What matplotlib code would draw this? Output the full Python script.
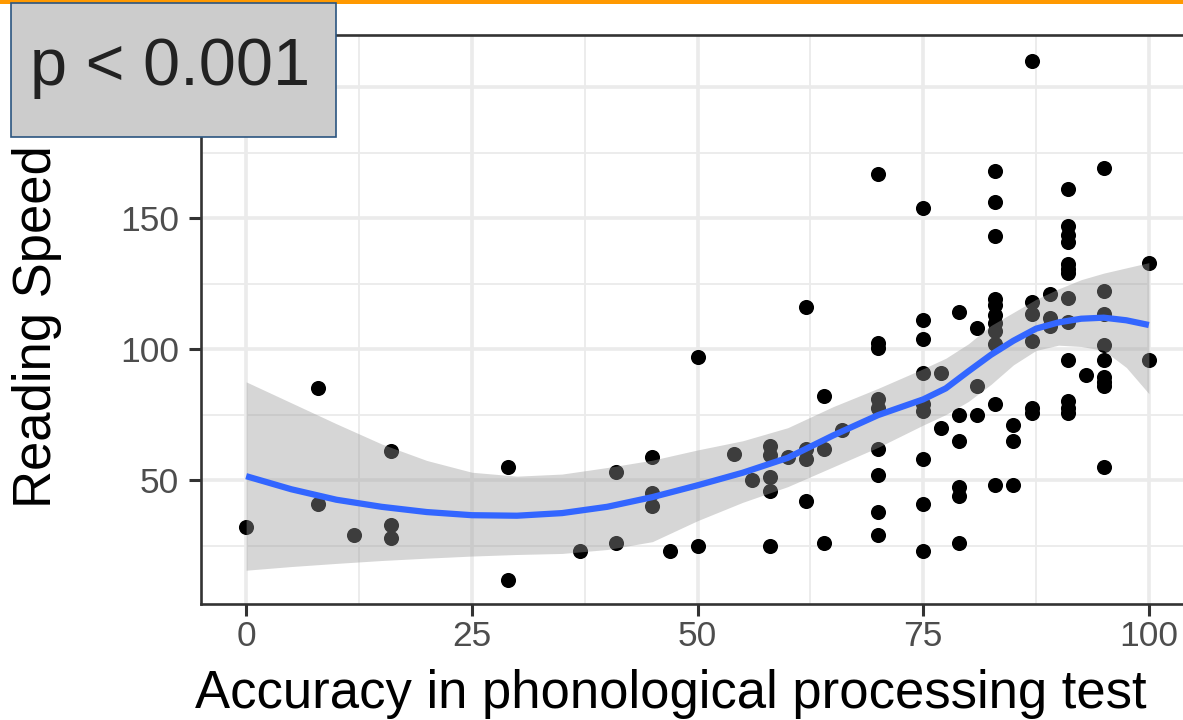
import matplotlib
matplotlib.use("Agg")
import matplotlib.pyplot as plt
from matplotlib.patches import Rectangle

plt.rcParams["font.family"] = ["Liberation Sans", "DejaVu Sans"]

# --------------------------------------------
# Data: accuracy (%) vs reading speed
# --------------------------------------------

accuracy = [
    0,
    8, 8,
    12,
    16, 16, 16,
    29, 29,
    37,
    41, 41,
    45, 45, 45,
    47,
    50, 50,
    54,
    56,
    58, 58, 58, 58, 58,
    60,
    62, 62, 62, 62,
    64, 64, 64,
    66,
    70, 70, 70, 70, 70, 70, 70, 70, 70,
    75, 75, 75, 75, 75, 75, 75, 75, 75,
    77, 77,
    79, 79, 79, 79, 79, 79,
    81, 81, 81,
    83, 83, 83, 83, 83, 83, 83, 83, 83, 83, 83,
    85, 85, 85,
    87, 87, 87, 87, 87, 87,
    89, 89, 89,
    91, 91, 91, 91, 91, 91, 91, 91, 91, 91, 91, 91, 91,
    93,
    95, 95, 95, 95, 95, 95, 95, 95, 95,
    100, 100,
]

speed = [
    32,
    85, 41,
    29,
    61, 33, 28,
    55, 12,
    23,
    53, 26,
    59, 45, 40,
    23,
    97, 25,
    60,
    50,
    63, 59.5, 51, 46, 25,
    59,
    116, 62, 58, 42,
    82, 62, 26,
    69,
    167, 102.5, 100.5, 81, 77.5, 62, 52, 38, 29,
    154, 111, 104, 91, 79, 76.5, 58, 41, 23,
    91, 70,
    114, 75, 65, 47.5, 44, 26,
    108, 86, 75,
    168, 156, 143, 119, 117, 113, 110, 107, 102, 79, 48,
    71, 65, 48,
    210, 118, 113.5, 103, 77.5, 75.5,
    121, 112, 109,
    161, 147, 143.5, 141, 132.5, 130.5, 129, 119.5, 110.5, 96, 80, 77.5, 75.5,
    90,
    169, 122, 113.5, 101.5, 96, 89.5, 87.5, 86, 55,
    133, 96,
]

# loess smooth with 95% band
smooth_x = [0, 5, 10, 15, 20, 25, 30, 35, 40, 45, 50, 55, 60, 65, 70,
            75, 77.5, 80, 82.5, 85, 87.5, 90, 92.5, 95, 97.5, 100]
smooth_fit = [51.5, 46.5, 42.5, 39.8, 37.8, 36.6, 36.4, 37.4, 39.8, 43.5, 48,
              52.8, 58.5, 67, 74.8, 80.8, 85, 91.5, 97.8, 103.2, 107.8,
              110.2, 111.6, 112, 111, 109.2]
smooth_lo = [15.6, 17, 18.2, 19.3, 20.2, 21, 21.6, 22, 23.5, 26.5, 34.5,
             41.5, 47.5, 55, 62.5, 71, 75, 80, 86.5, 94, 99.5, 101.5, 101,
             99.5, 93, 83]
smooth_hi = [87.5, 79.5, 71.5, 63.8, 57.5, 53, 51.5, 52.3, 54.8, 57.6, 61.5,
             65, 70, 78, 85, 92.5, 96.5, 102, 109, 114, 119, 123, 126.5, 129,
             131, 133]

x_ticks = [0, 25, 50, 75, 100]
y_ticks = [50, 100, 150, 200]
# the 200 label sits under the p-value box
y_tick_labels = ["50", "100", "150", ""]

# --------------------------------------------
# Figure
# --------------------------------------------

W, H = 1183, 720
fig = plt.figure(figsize=(W / 100, H / 100), dpi=100)
fig.patch.set_facecolor("white")

ax = fig.add_axes([201 / W, 116 / H, 993 / W, 569 / H])
ax.set_facecolor("white")

ax.scatter(accuracy, speed, s=118, color="black", linewidths=0, zorder=3)
ax.fill_between(smooth_x, smooth_lo, smooth_hi, color="#999999",
                alpha=0.4, linewidth=0, zorder=4)
ax.plot(smooth_x, smooth_fit, color="#3366FF", linewidth=4.5,
        solid_capstyle="butt", zorder=5)

ax.set_xlim(-5, 105)
ax.set_ylim(2.7, 219.9)
ax.set_xticks(x_ticks)
ax.set_yticks(y_ticks)
ax.set_yticklabels(y_tick_labels)
ax.set_xticks([12.5, 37.5, 62.5, 87.5], minor=True)
ax.set_yticks([25, 75, 125, 175], minor=True)

ax.grid(which="major", color="#EBEBEB", linewidth=2.6, zorder=0)
ax.grid(which="minor", color="#EBEBEB", linewidth=1.3, zorder=0)
ax.set_axisbelow(True)

ax.tick_params(axis="both", which="major", direction="out", length=8.6,
               width=2.2, color="#333333", labelsize=25.5,
               labelcolor="#4D4D4D")
ax.tick_params(axis="x", which="major", pad=3)
ax.tick_params(axis="y", which="major", pad=7)
ax.tick_params(which="minor", length=0)

for side in ["top", "bottom", "left", "right"]:
    ax.spines[side].set_color("#333333")
    ax.spines[side].set_linewidth(1.9)

# axis titles
fig.text(195 / W, 1 - 708 / H, "Accuracy in phonological processing test",
         fontsize=37.9, color="black", ha="left", va="baseline")
fig.text(12 / W, 1 - 327 / H, "Reading Speed", fontsize=37.9,
         color="black", rotation=90, ha="left", va="center")

# orange rule across the top
fig.add_artist(Rectangle((0, 1 - 4 / H), 1, 4 / H, transform=fig.transFigure,
                         facecolor="#FF9900", edgecolor="none", zorder=6))

# p-value label box
fig.add_artist(Rectangle((11 / W, 1 - 137 / H), 325 / W, 134 / H,
                         transform=fig.transFigure, facecolor="#CCCCCC",
                         edgecolor="#2B5580", linewidth=1.2, zorder=7))
fig.text(30 / W, 1 - 85 / H, "p < 0.001", fontsize=48, color="#222222",
         ha="left", va="baseline", zorder=8)

fig.savefig("out.png", dpi=100)
